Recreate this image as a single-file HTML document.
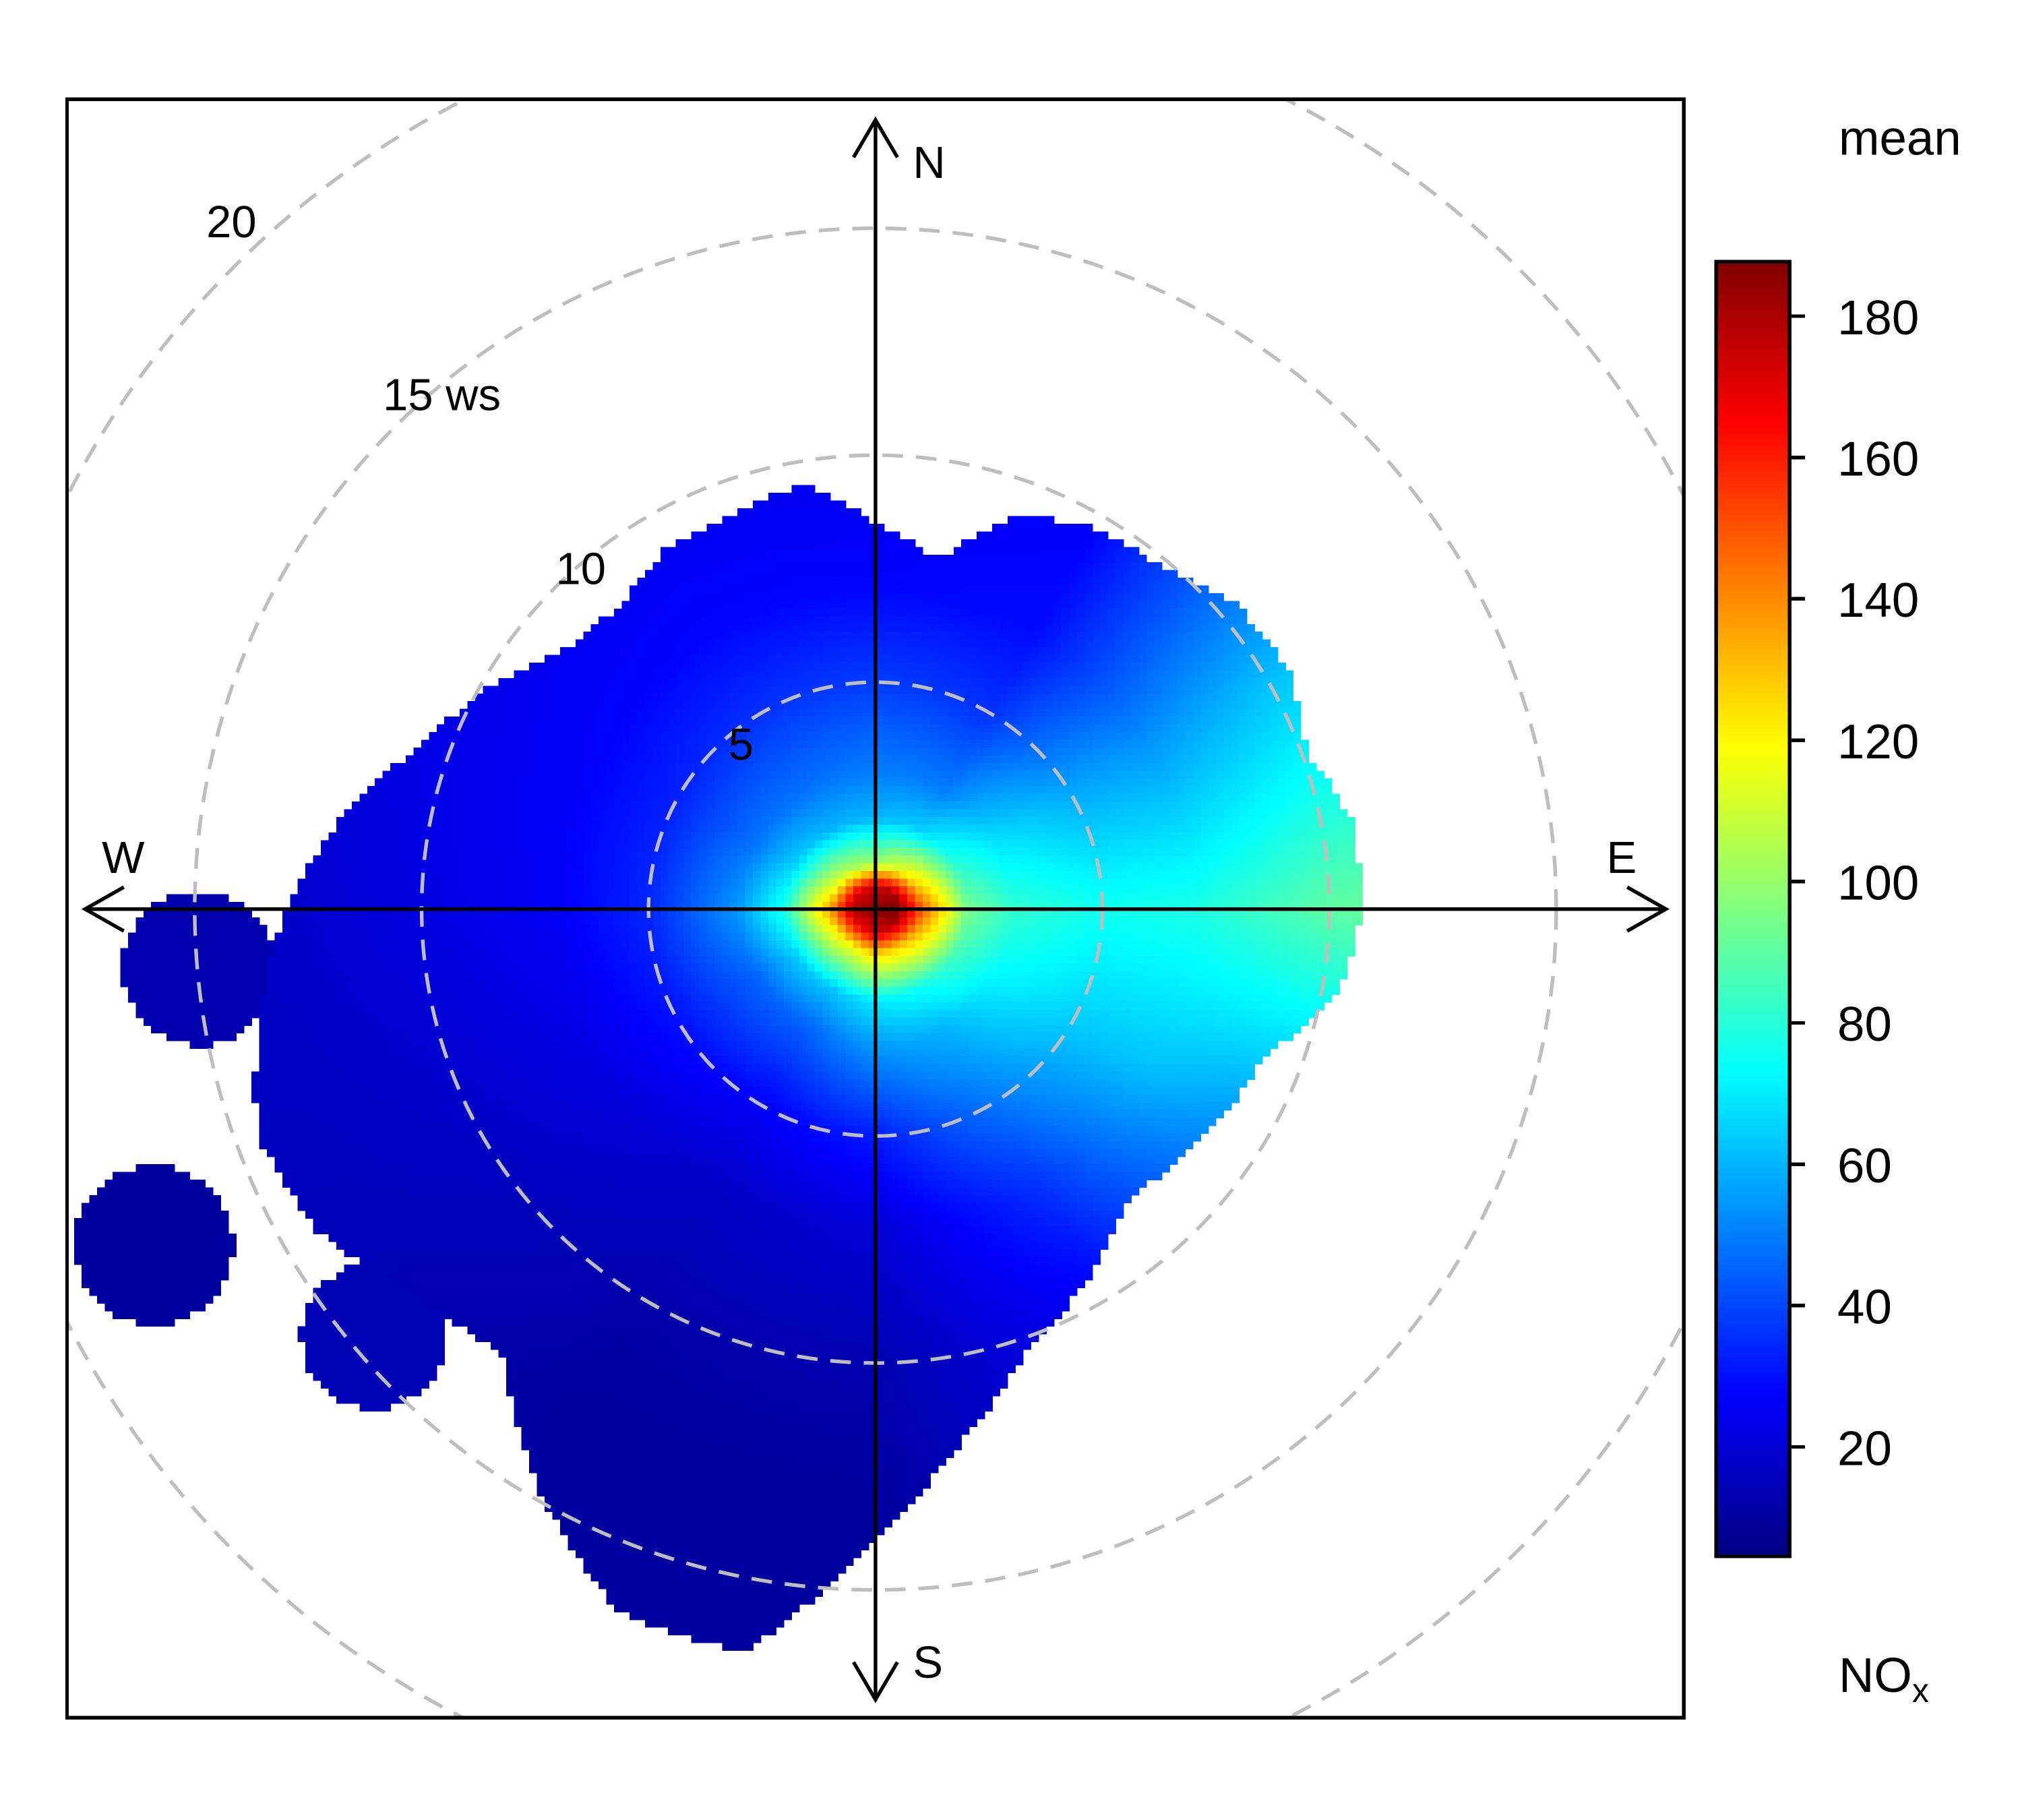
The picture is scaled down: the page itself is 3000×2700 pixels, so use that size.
<!DOCTYPE html>
<html><head><meta charset="utf-8"><style>
html,body{margin:0;padding:0;background:#fff;}
svg{display:block;}
text{font-family:"Liberation Sans",sans-serif;fill:#000;}
</style></head><body>
<svg id="chart" width="3000" height="2700" viewBox="0 0 1568.2 1411.4" xmlns="http://www.w3.org/2000/svg" shape-rendering="crispEdges">
<defs>
<clipPath id="panelClip"><rect x="52" y="77" width="1254" height="1255"/></clipPath>
<linearGradient id="jetGrad" x1="0" y1="1" x2="0" y2="0">
<stop offset="0" stop-color="#000080"/><stop offset="0.125" stop-color="#0000ff"/>
<stop offset="0.375" stop-color="#00ffff"/><stop offset="0.625" stop-color="#ffff00"/>
<stop offset="0.875" stop-color="#ff0000"/><stop offset="1" stop-color="#800000"/>
</linearGradient>
</defs>
<rect x="0" y="0" width="1568.2" height="1411.4" fill="#fff"/>
<g id="heat" clip-path="url(#panelClip)"></g>
<g clip-path="url(#panelClip)" fill="none" stroke="#bebebe" stroke-width="2.8" stroke-dasharray="16,10" shape-rendering="geometricPrecision" id="rings"></g>
<g font-size="35">
<text x="565" y="589">5</text>
<text x="431" y="453">10</text>
<text x="297" y="318">15 ws</text>
<text x="160" y="184">20</text>
</g>
<g stroke="#000" stroke-width="2.8" fill="none" shape-rendering="geometricPrecision">
<line x1="66" y1="705" x2="1292" y2="705"/>
<line x1="679" y1="93" x2="679" y2="1318"/>
<polyline points="96,688 66,705 96,722"/>
<polyline points="1262,688 1292,705 1262,722"/>
<polyline points="662,122 679,93 696,122"/>
<polyline points="662,1289 679,1318 696,1289"/>
</g>
<g font-size="35">
<text x="708" y="138">N</text>
<text x="708" y="1301">S</text>
<text x="79" y="677">W</text>
<text x="1246" y="677">E</text>
</g>
<rect x="52" y="77" width="1254" height="1255" fill="none" stroke="#000" stroke-width="2.8"/>
<text x="1426" y="120" font-size="38">mean</text>
<rect x="1331" y="203" width="57" height="1004" fill="url(#jetGrad)" stroke="#000" stroke-width="2.8"/>
<g id="cbTicks"></g>
<text x="1426" y="1312" font-size="38">NO<tspan font-size="26" dy="8">x</tspan></text>
</svg>
<script>
// ---- data ----
const directions = [0,30,60,90,120,150,180,210,240,270,300,330];
const wsLevels = [0,0.5,1,2,3,5,7,10,13,17];
const meanN   = [187,173,100,60,50,38,28,24,22,22];
const meanNE  = [187,176,115,65,50,36,29,27,25,25];
const meanENE = [187,182,130,80,68,58,55,62,64,64];
const meanE   = [187,186,150,95,82,76,78,90,95,95];
const meanESE = [187,183,135,85,72,64,62,52,50,50];
const meanSSE = [187,176,125,75,60,48,36,26,22,22];
const meanS   = [187,173,125,70,55,32,20,13,10,10];
const meanSSW = [187,168,115,62,45,26,17,12,10,10];
const meanWSW = [187,170,120,65,45,30,22,17,15,15];
const meanW   = [187,178,135,78,55,34,26,22,18,16];
const meanWNW = [187,173,115,65,48,33,27,24,22,22];
const meanNNW = [187,170,105,60,48,36,28,25,22,22];
const edgeAngles = [0,10,20,30,40,50,60,70,80,90,100,110,120,130,140,150,160,170,180,190,200,210,220,230,240,250,260,270,280,290,300,310,320,330,340,350];
const edgeWs = [8.5,7.8,9.2,9.7,9.8,10.4,10.5,10.1,10.7,10.7,10.4,9.2,8.9,8.6,8.5,9.4,10.1,11.7,13.8,16.6,16.5,14.8,12.8,13.2,14.2,14.5,13.8,13.0,11.9,10.6,9.8,8.9,8.7,9.2,9.2,9.5];
const blobU = [-15.9, -14.9, -11.05];
const blobV = [-7.4, -1.3, -9.4];
const blobR = [1.75, 1.7, 1.6];
const blobVal = [10, 13, 14];
const cbTickValues = [20,40,60,80,100,120,140,160,180];
const cbMin = 4.5, cbMax = 187.7;

const meanTable = [meanN,meanNE,meanENE,meanE,meanESE,meanSSE,meanS,meanSSW,meanWSW,meanW,meanWNW,meanNNW];

// ---- scales ----
const cx = 679, cy = 705, pxPerWs = 35.2;
const sx = u => cx + u*pxPerWs;
const sy = v => cy - v*pxPerWs;
const cbY = val => 1207 - (val-cbMin)/(cbMax-cbMin)*1004;

function jet(val){
  let t = (val-cbMin)/(cbMax-cbMin); t=Math.max(0,Math.min(1,t));
  const c = x => Math.round(255*Math.max(0,Math.min(1,x)));
  return `rgb(${c(1.5-Math.abs(4*t-3))},${c(1.5-Math.abs(4*t-2))},${c(1.5-Math.abs(4*t-1))})`;
}
function interpWs(row, r){
  if (r >= wsLevels[wsLevels.length-1]) return row[row.length-1];
  for (let k=0;k<wsLevels.length-1;k++){
    if (r <= wsLevels[k+1]){
      const f=(r-wsLevels[k])/(wsLevels[k+1]-wsLevels[k]);
      return row[k]*(1-f)+row[k+1]*f;
    }
  }
}
function fieldAt(a, r){
  const step = 360/directions.length;
  const i = Math.floor(a/step)%directions.length, j=(i+1)%directions.length;
  const f = (a - directions[i])/step;
  return interpWs(meanTable[i],r)*(1-f)+interpWs(meanTable[j],r)*f;
}
function edgeAt(a){
  const step = 360/edgeAngles.length;
  const i = Math.floor(a/step)%edgeAngles.length, j=(i+1)%edgeAngles.length;
  const f = (a-edgeAngles[i])/step;
  return edgeWs[i]*(1-f)+edgeWs[j]*f;
}

// ---- heatmap ----
const heat = document.getElementById('heat');
const NS = 'http://www.w3.org/2000/svg';
const d = 0.17;
let html = '';
for (let v = 17.5; v > -18; v -= d){
  for (let u = -18; u < 12.5; u += d){
    const uc=u+d/2, vc=v-d/2;
    const r = Math.hypot(uc,vc);
    let a = Math.atan2(uc,vc)*180/Math.PI; if (a<0) a+=360;
    let val = null;
    if (r <= edgeAt(a)) val = fieldAt(a,r);
    else {
      for (let b=0;b<blobU.length;b++){
        if (Math.hypot(uc-blobU[b], vc-blobV[b]) <= blobR[b]) { val = blobVal[b]; break; }
      }
    }
    if (val===null) continue;
    html += `<rect x="${sx(u).toFixed(2)}" y="${sy(v).toFixed(2)}" width="${(d*pxPerWs+0.4).toFixed(2)}" height="${(d*pxPerWs+0.4).toFixed(2)}" fill="${jet(val)}"/>`;
  }
}
heat.innerHTML = html;

// ---- rings ----
const ringWs = [5,10,15,20];
const rings = document.getElementById('rings');
ringWs.forEach(w=>{
  const c = document.createElementNS(NS,'circle');
  
  
  c.setAttribute('cx',cx); c.setAttribute('cy',cy); c.setAttribute('r',w*pxPerWs);
  rings.appendChild(c);
});

// ---- colorbar ticks ----
const cbt = document.getElementById('cbTicks');
cbTickValues.forEach(t=>{
  const y = cbY(t);
  const ln = document.createElementNS(NS,'line');
  
  
  ln.setAttribute('x1',1388); ln.setAttribute('x2',1400);
  ln.setAttribute('y1',y); ln.setAttribute('y2',y);
  ln.setAttribute('stroke','#000'); ln.setAttribute('stroke-width','2.8');
  cbt.appendChild(ln);
  const tx = document.createElementNS(NS,'text');
  
  
  tx.setAttribute('x',1425); tx.setAttribute('y',y+14);
  tx.setAttribute('font-size','38');
  tx.textContent = t;
  cbt.appendChild(tx);
});
</script>
</body></html>
